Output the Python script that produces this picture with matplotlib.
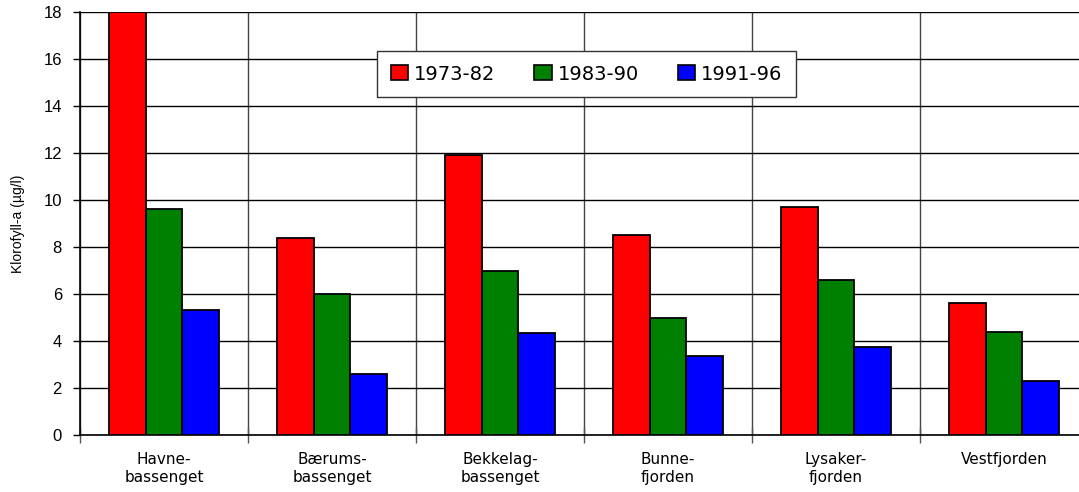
import numpy as np
import matplotlib.pyplot as plt
from matplotlib.ticker import FixedLocator, NullFormatter
from matplotlib.patches import Patch

plt.rcParams['font.family'] = ['Liberation Sans', 'DejaVu Sans']

# Data
stations = ["Havne-\nbassenget", "Bærums-\nbassenget", "Bekkelag-\nbassenget",
            "Bunne-\nfjorden", "Lysaker-\nfjorden", "Vestfjorden"]
periods = ["1973-82", "1983-90", "1991-96"]
v_1973_82 = [18.0, 8.4, 11.9, 8.5, 9.7, 5.6]
v_1983_90 = [9.6, 6.0, 7.0, 5.0, 6.6, 4.4]
v_1991_96 = [5.3, 2.6, 4.35, 3.35, 3.75, 2.3]
colors = ['#ff0000', '#008000', '#0000ff']

W, H = 1079, 492
fig = plt.figure(figsize=(W/100, H/100), dpi=100)
# axes runs past the right edge like in the original
ax = fig.add_axes([80/W, 1 - 435/H, 1008/W, 423/H])

x = np.arange(len(stations))
bw = 0.22
for i, (vals, col) in enumerate(zip([v_1973_82, v_1983_90, v_1991_96], colors)):
    ax.bar(x + (i - 1)*bw, vals, bw, color=col, edgecolor='black', linewidth=1.3, zorder=3)

ax.set_xlim(-0.5, len(stations) - 0.5)
ax.set_ylim(0, 18)
ax.set_yticks(np.arange(0, 19, 2))
ax.tick_params(axis='y', labelsize=12, length=5, pad=8, width=1)

# boundaries as major ticks, names as minor
ax.xaxis.set_major_locator(FixedLocator(np.arange(-0.5, len(stations), 1.0)))
ax.xaxis.set_major_formatter(NullFormatter())
ax.xaxis.set_minor_locator(FixedLocator(x))
ax.set_xticklabels(stations, minor=True)
ax.tick_params(axis='x', which='major', direction='inout', length=11, width=1, color='#555555')
ax.tick_params(axis='x', which='minor', length=0, pad=12, labelsize=11)
for lab in ax.get_xticklabels(minor=True):
    lab.set_family(['DejaVu Sans'])
    lab.set_linespacing(1.25)

ax.grid(axis='y', color='black', linewidth=1, zorder=0)
ax.grid(axis='x', which='major', color='#444444', linewidth=1, zorder=0)
for s in ['top', 'right']:
    ax.spines[s].set_visible(False)
ax.spines['left'].set_linewidth(1.2)
ax.spines['bottom'].set_linewidth(1.2)

ax.set_ylabel("Klorofyll-a (µg/l)", fontsize=10)
ax.yaxis.set_label_coords(-55/1008, 0.5)

handles = [Patch(facecolor=c, edgecolor='black', linewidth=1.2) for c in colors]
leg = ax.legend(handles, periods, ncol=3, loc='upper left',
                bbox_to_anchor=(297/1008, 1 - 39/423), borderaxespad=0,
                fancybox=False, framealpha=1,
                edgecolor='#333333', handlelength=0.9, handleheight=0.8,
                handletextpad=0.3, columnspacing=2.0, borderpad=0.7,
                prop={'family': 'DejaVu Sans', 'size': 14})
leg.get_frame().set_linewidth(1)
leg.set_zorder(5)

fig.savefig('out.png', dpi=100)
